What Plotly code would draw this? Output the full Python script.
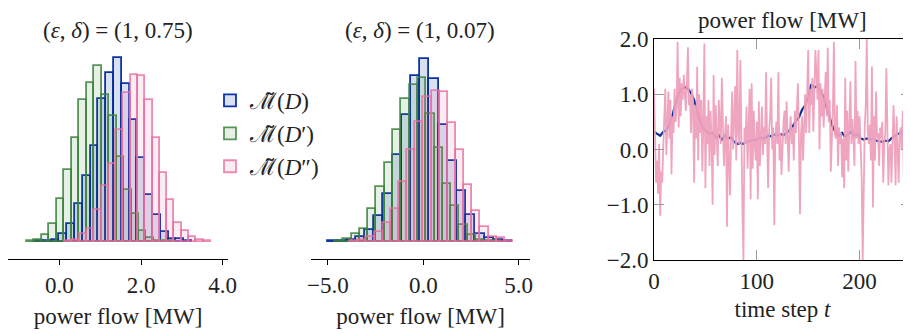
import numpy as np
import plotly.graph_objects as go

# ---------------- data ----------------
series_names = ["ℳ̃(<i>D</i>)", "ℳ̃(<i>D</i>′)", "ℳ̃(<i>D</i>″)"]

# panel 1 : (eps, delta) = (1, 0.75) ; histogram bins: start, width, heights
p1_blue_start, p1_blue_width = -0.57, 0.191
p1_blue_counts = [0.5, 1, 2, 8, 18, 38, 66, 96, 143, 169, 184, 158, 122, 84, 47, 27, 10, 2.5, 2.5, 1]
p1_green_start, p1_green_width = -0.803, 0.1836
p1_green_counts = [0.5, 2, 7, 18, 43, 72, 104, 142, 159, 176, 147, 126, 85, 52, 28, 11, 3.5, 1, 0.5, 0.3]
p1_pink_start, p1_pink_width = 0.1395, 0.1787
p1_pink_counts = [1, 2, 8, 13, 32, 56, 78, 112, 149, 167, 166, 142, 104, 69, 42, 19, 11, 4.3, 1.7, 0.5]

# panel 2 : (eps, delta) = (1, 0.07)
p2_blue_start, p2_blue_width = -4.98, 0.482
p2_blue_counts = [0.3, 0.7, 2, 5, 12, 26, 48, 87, 127, 166, 183, 163, 117, 81, 51, 27, 8, 4, 2, 1]
p2_green_start, p2_green_width = -4.63, 0.435
p2_green_counts = [0.5, 2.3, 8, 13, 33, 55, 79, 112, 143, 157, 164, 128, 94, 58, 36, 17, 7, 2, 1, 0.5]
p2_pink_start, p2_pink_width = -3.84, 0.427
p2_pink_counts = [0.7, 2, 5, 10, 19, 33, 60, 92, 120, 145, 151, 150, 119, 92, 57, 31, 15, 5, 4, 1]

# panel 3 : time series
true_t = list(range(0, 250, 3))
true_flow = [0.32, 0.28, 0.25, 0.32, 0.35, 0.45, 0.62, 0.85, 1.00, 1.10, 1.13, 1.10, 1.02, 0.90,
             0.70, 0.50, 0.38, 0.32, 0.28, 0.30, 0.22, 0.26, 0.18, 0.25, 0.20, 0.22, 0.14, 0.10,
             0.12, 0.10, 0.14, 0.15, 0.18, 0.17, 0.20, 0.22, 0.20, 0.25, 0.24, 0.27, 0.25, 0.28,
             0.26, 0.30, 0.35, 0.42, 0.52, 0.58, 0.72, 0.80, 0.95, 1.18, 1.12, 1.15, 1.05, 0.95,
             0.75, 0.55, 0.40, 0.30, 0.25, 0.30, 0.22, 0.28, 0.32, 0.25, 0.28, 0.20, 0.18, 0.20,
             0.18, 0.20, 0.16, 0.15, 0.14, 0.16, 0.15, 0.20, 0.24, 0.28, 0.30, 0.32, 0.26, 0.30]

noisy_t = list(range(0, 251))
noisy_flow = [
    1.10, 0.30, -0.60, -0.20, -0.80, 0.10, -1.20, -0.40, -0.60, 0.05,
    0.70, 1.10, -0.10, 0.40, 1.05, 0.20, 0.90, -0.45, 0.60, 0.30,
    1.10, 0.50, 0.80, 1.95, 0.40, 1.30, 0.60, 1.20, 0.90, 1.35,
    1.00, 0.70, 1.20, 1.85, 0.80, 1.00, 0.30, 1.10, 0.90, -0.60,
    0.80, 0.20, 1.50, -0.20, 1.00, 0.30, 0.90, -0.40, 0.50, 1.92,
    -0.70, 0.60, 0.10, 0.90, -0.30, 0.70, 0.20, -1.00, 1.35, -0.10,
    0.80, 0.20, -0.30, 0.90, 0.40, 0.10, 1.30, 0.50, -0.30, 0.20,
    0.60, -1.40, 0.45, -0.20, -0.83, 0.30, 1.05, 0.00, 0.60, 1.15,
    -0.20, 1.80, 0.30, 0.10, 1.62, -0.30, -1.05, -2.00, 0.40, 0.10,
    0.78, -0.35, 0.60, 1.10, -0.90, 1.20, -0.35, 0.70, 0.10, -0.20,
    0.50, -0.90, 0.87, -0.30, 0.20, 0.78, -0.10, 0.40, 0.10, 1.40,
    0.20, -0.70, 0.35, 0.60, 1.30, 0.00, 0.40, -1.37, 0.20, 0.50,
    0.10, 1.40, -0.20, 0.30, -0.46, 0.20, 0.50, 0.70, 0.10, 0.87,
    0.20, -0.40, 0.35, 0.60, 0.10, 0.40, -0.20, 0.70, 0.30, 0.90,
    1.20, 0.20, -1.17, 0.30, 0.60, -0.20, 0.50, 1.00, 0.30, 1.35,
    1.80, 0.30, 1.10, 0.80, 1.30, 0.32, 1.00, 1.80, 1.40, 0.90,
    1.80, 0.00, 1.20, 0.60, 1.10, 0.40, 0.90, 1.40, 0.60, 1.84,
    0.50, 0.90, -0.40, 0.30, 0.70, 1.95, 0.25, 0.20, 0.80, -0.30,
    0.40, 0.10, 0.30, -0.50, 0.20, -0.70, 1.30, -0.20, 0.70, -0.40,
    0.30, 1.23, 0.10, 0.55, 0.20, -0.30, 1.60, 0.20, 0.70, 0.10,
    0.60, 0.15, -0.50, -2.00, -0.30, 0.40, 0.80, 2.00, 0.30, 0.10,
    0.45, -0.20, 1.50, -1.05, 0.60, -0.20, 1.05, 0.20, 0.30, -0.30,
    0.40, 0.20, 0.50, -0.60, 0.10, 0.30, 1.47, -0.20, -0.65, 0.00,
    0.10, -0.60, 0.50, 0.80, 0.20, -0.65, 0.60, 0.10, -0.60, 0.30,
    0.40, 0.00, 0.70, -0.50, 0.90, 1.23, 0.30, -0.30, 0.00, 0.84,
    -0.30,
]

panel_titles = ["(<i>ε</i>, <i>δ</i>) = (1, 0.75)", "(<i>ε</i>, <i>δ</i>) = (1, 0.07)", "power flow [MW]"]

# ---------------- style ----------------
FONT = "Liberation Serif"
FS = 23
TXT = "#222"
edge_cols = ["rgba(0,40,160,0.95)", "rgba(60,130,60,0.85)", "rgba(232,110,160,0.8)"]
fill_cols = ["rgba(0,50,170,0.15)", "rgba(60,130,60,0.12)", "rgba(235,110,160,0.13)"]

fig = go.Figure()


def add_hist(start, width, counts, idx, xa, ya, show):
    counts = np.asarray(counts, dtype=float)
    centers = start + width * (np.arange(len(counts)) + 0.5)
    fig.add_trace(go.Bar(
        x=centers, y=counts, width=[width] * len(counts),
        marker=dict(color=fill_cols[idx], line=dict(color=edge_cols[idx], width=1.8)),
        name=series_names[idx], legendgroup=f"g{idx}", showlegend=show,
        xaxis=xa, yaxis=ya,
    ))


add_hist(p1_blue_start, p1_blue_width, p1_blue_counts, 0, "x", "y", True)
add_hist(p1_green_start, p1_green_width, p1_green_counts, 1, "x", "y", True)
add_hist(p1_pink_start, p1_pink_width, p1_pink_counts, 2, "x", "y", True)
add_hist(p2_blue_start, p2_blue_width, p2_blue_counts, 0, "x2", "y2", False)
add_hist(p2_green_start, p2_green_width, p2_green_counts, 1, "x2", "y2", False)
add_hist(p2_pink_start, p2_pink_width, p2_pink_counts, 2, "x2", "y2", False)

fig.add_trace(go.Scatter(x=true_t, y=true_flow, mode="lines",
                         line=dict(color="#0b2f9a", width=2.2), showlegend=False,
                         xaxis="x3", yaxis="y3"))
fig.add_trace(go.Scatter(x=noisy_t, y=noisy_flow, mode="lines",
                         line=dict(color="rgba(238,160,188,0.95)", width=1.8), showlegend=False,
                         xaxis="x3", yaxis="y3"))

# the page body has an 8 px margin, so the figure is made 8 px smaller and
# all reference pixel positions are shifted by that offset
OFF = 8
WIN_W, WIN_H = 911, 334
W, H = WIN_W - OFF, WIN_H - OFF
def px_x(p):
    return (p - OFF) / W
def px_y(p):
    return (WIN_H - p) / H

tickfont = dict(family=FONT, size=FS, color=TXT)
hist_x_common = dict(showgrid=False, zeroline=False, showline=True, linecolor="black", linewidth=1,
                     ticks="outside", ticklen=5, tickcolor="black", tickformat=".1f",
                     tickfont=tickfont, automargin=False,
                     title=dict(text="power flow [MW]", font=dict(family=FONT, size=FS, color=TXT), standoff=10))
hist_y_common = dict(visible=False, range=[-17.6, 191.7], automargin=False,
                     domain=[px_y(259.3), px_y(50)])

fig.update_layout(
    width=W, height=H, margin=dict(l=0, r=0, t=0, b=0, pad=0, autoexpand=False),
    paper_bgcolor="white", plot_bgcolor="white",
    barmode="overlay", bargap=0,
    font=dict(family=FONT, size=FS, color=TXT),
    xaxis=dict(domain=[px_x(8), px_x(228)], range=[-1.256, 4.130], tickvals=[0, 2, 4], anchor="y", **hist_x_common),
    yaxis=dict(anchor="x", **hist_y_common),
    xaxis2=dict(domain=[px_x(311), px_x(530)], range=[-5.889, 5.595], tickvals=[-5, 0, 5], anchor="y2", **hist_x_common),
    yaxis2=dict(anchor="x2", **hist_y_common),
    xaxis3=dict(domain=[px_x(654), 1.0], range=[0, 250], tickvals=[0, 100, 200], anchor="y3",
                showgrid=False, zeroline=False, showline=True, linecolor="black", linewidth=1, mirror="ticks",
                ticks="inside", ticklen=10, tickcolor="#9a9a9a", tickfont=tickfont, automargin=False,
                title=dict(text="time step <i>t</i>", font=dict(family=FONT, size=FS, color=TXT), standoff=8)),
    yaxis3=dict(domain=[px_y(260), px_y(39)], range=[-2, 2], tickvals=[-2, -1, 0, 1, 2], tickformat=".1f",
                anchor="x3", showgrid=False, zeroline=False, showline=True, linecolor="black", linewidth=1,
                mirror="ticks", ticks="inside", ticklen=10, tickcolor="#9a9a9a", tickfont=tickfont,
                automargin=False),
    legend=dict(x=px_x(210), y=px_y(79), xanchor="left", yanchor="top",
                font=dict(family=FONT, size=FS, color=TXT), tracegroupgap=0,
                bgcolor="rgba(0,0,0,0)"),
    showlegend=True,
)

title_pos = [(118, 30), (420, 30), (782, 21)]
for txt, (cx, cy) in zip(panel_titles, title_pos):
    fig.add_annotation(text=txt, x=px_x(cx), y=px_y(cy), xref="paper", yref="paper",
                       showarrow=False, xanchor="center", yanchor="middle",
                       font=dict(family=FONT, size=FS, color=TXT))

fig.write_html("out.html")
